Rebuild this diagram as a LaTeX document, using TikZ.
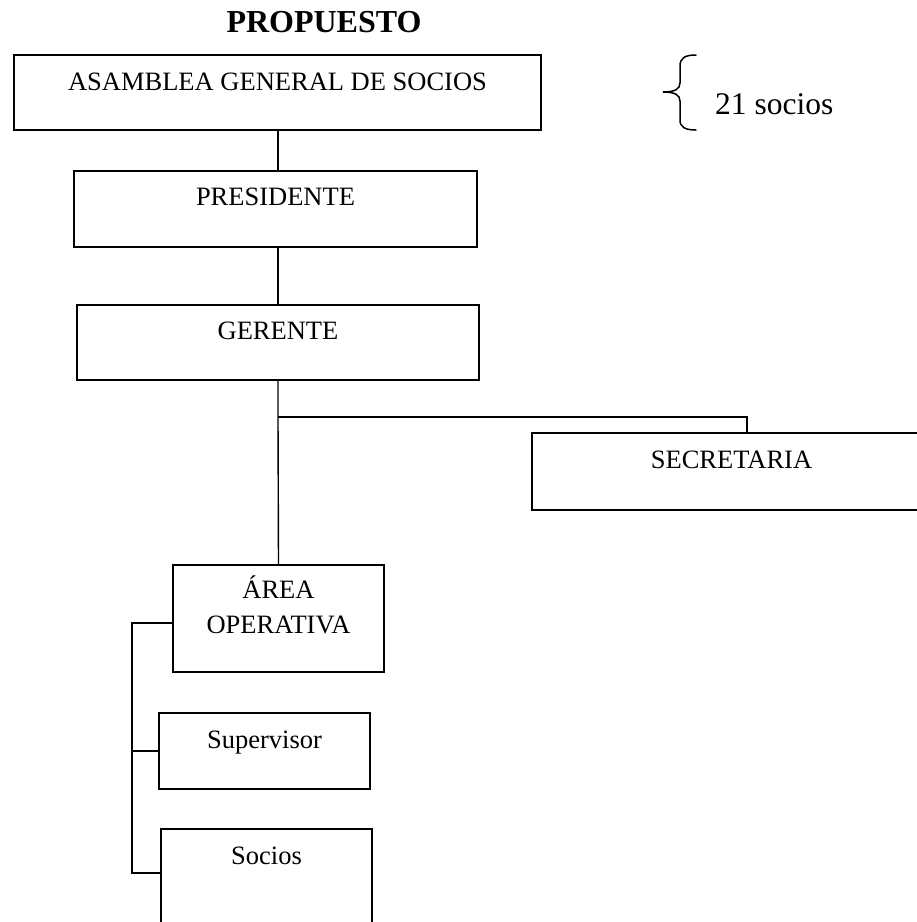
\documentclass[tikz,border=0pt]{standalone}
\usepackage{fontspec}
\setmainfont{Liberation Serif}
\begin{document}
\begin{tikzpicture}[x=1pt,y=-1pt,
  orgbox/.style={draw, line width=2pt, inner sep=0pt, rectangle},
  boxtext/.style={anchor=base, inner sep=0pt, align=center,
    font=\fontsize{26.5}{35}\selectfont},
  link/.style={line width=1.4pt},
  bracepath/.style={line width=1.5pt, line cap=round}]
\useasboundingbox (0,0) rectangle (917,922);

% title
\node[anchor=base, inner sep=0pt, font=\fontsize{32}{36}\selectfont\bfseries] (title) at (324,32) {PROPUESTO};

% boxes
\node[orgbox, minimum width=527pt, minimum height=75pt] (asamblea) at (277.5,92.5) {};
\node[orgbox, minimum width=403pt, minimum height=76pt] (presidente) at (275.5,209) {};
\node[orgbox, minimum width=402pt, minimum height=75pt] (gerente) at (278,342.5) {};
\node[orgbox, minimum width=399pt, minimum height=77pt] (secretaria) at (731.5,471.5) {};
\node[orgbox, minimum width=211pt, minimum height=107pt] (area) at (278.5,618.5) {};
\node[orgbox, minimum width=211pt, minimum height=76pt] (supervisor) at (264.5,751) {};
\node[orgbox, minimum width=211pt, minimum height=101pt] (socios) at (266.5,879.5) {};

% box texts
\node[boxtext] (asamblea-t) at ([yshift=-36pt]asamblea.north) {ASAMBLEA GENERAL DE SOCIOS};
\node[boxtext] (presidente-t) at ([yshift=-35pt]presidente.north) {PRESIDENTE};
\node[boxtext] (gerente-t) at ([yshift=-35pt]gerente.north) {GERENTE};
\node[boxtext] (secretaria-t) at ([yshift=-36pt]secretaria.north) {SECRETARIA};
\node[boxtext, anchor=north] (area-t) at ([yshift=-12pt]area.north) {ÁREA\\OPERATIVA};
\node[boxtext] (supervisor-t) at ([yshift=-36pt]supervisor.north) {Supervisor};
\node[boxtext] (socios-t) at ([yshift=-36pt]socios.north) {Socios};

% brace with member count
\draw[bracepath] (696,55) .. controls (685,55) and (680,58) .. (680,66)
  -- (680,83) .. controls (680,89) and (675,92) .. (663,92)
  .. controls (675,92) and (680,95) .. (680,101)
  -- (680,120) .. controls (680,127) and (685,130) .. (696,130);
\node[anchor=base west, inner sep=0pt, font=\fontsize{31.5}{36}\selectfont] (count) at (715,114) {21 socios};

% connectors
\coordinate (split) at (278,417);
\coordinate (sectop) at (747,417);
\coordinate (bustop) at (132,623);
\coordinate (busbot) at (132,873);
\draw[link] (asamblea.south -| gerente.north) -- (presidente.north -| gerente.north);
\draw[link] (presidente.south -| gerente.north) -- (gerente.north);
\draw[link] (gerente.south) -- (split) -- (area.north);
\draw[link] (split) -- (sectop) -- (sectop |- secretaria.north);
\draw[link] (area.west |- bustop) -- (bustop) -- (busbot) -- (socios.west |- busbot);
\draw[link] (supervisor.west) -- (supervisor.west -| bustop);
\end{tikzpicture}
\end{document}
